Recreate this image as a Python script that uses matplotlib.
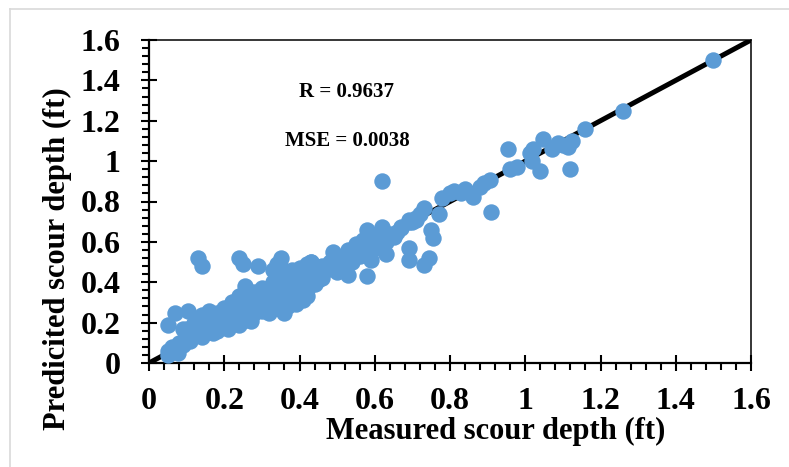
import matplotlib
matplotlib.use("Agg")
import matplotlib.pyplot as plt
from matplotlib.lines import Line2D
from matplotlib.ticker import MultipleLocator

# measured vs predicted scour depth (ft)
measured = [
    # dense band, low end
    0.05, 0.06, 0.07, 0.08, 0.09, 0.10, 0.11, 0.12, 0.11, 0.10, 0.12, 0.13, 0.09, 0.14, 0.15,
    0.14, 0.15, 0.16, 0.17, 0.17, 0.18, 0.18, 0.19, 0.20, 0.20, 0.21, 0.16, 0.14, 0.19, 0.21,
    0.22, 0.22, 0.23, 0.23, 0.24, 0.24, 0.25, 0.25, 0.26, 0.26, 0.27, 0.27, 0.28, 0.28, 0.29,
    0.29, 0.30, 0.30, 0.24, 0.26, 0.22, 0.23, 0.21, 0.27,
    0.31, 0.31, 0.32, 0.32, 0.33, 0.33, 0.34, 0.34, 0.35, 0.35, 0.36, 0.36, 0.37, 0.37, 0.38,
    0.38, 0.39, 0.39, 0.40, 0.40, 0.36, 0.35, 0.38, 0.30, 0.33, 0.37, 0.42, 0.41,
    0.41, 0.41, 0.42, 0.42, 0.43, 0.43, 0.44, 0.44, 0.45, 0.46, 0.46, 0.47, 0.48, 0.49, 0.50,
    0.50, 0.40, 0.42, 0.43,
    0.51, 0.52, 0.53, 0.54, 0.55, 0.56, 0.57, 0.58, 0.59, 0.60, 0.60, 0.61, 0.62, 0.63, 0.65,
    0.66, 0.67, 0.69, 0.71, 0.72,
    # extra points filling the band
    0.28, 0.31, 0.33, 0.35, 0.37, 0.39, 0.32, 0.34, 0.36, 0.38, 0.44, 0.45, 0.25, 0.27,
    0.18, 0.20, 0.22, 0.12, 0.13, 0.16,
    # mid range
    0.62, 0.78, 0.81, 0.84, 0.86, 0.88, 0.906, 0.89, 0.91, 0.73, 0.77, 0.69, 0.71, 0.67, 0.62,
    0.58, 0.75, 0.755, 0.69, 0.63, 0.69, 0.73, 0.745, 0.53, 0.49, 0.57, 0.59, 0.65, 0.60, 0.64,
    0.55, 0.55, 0.53, 0.58, 0.43, 0.59, 0.70, 0.80, 0.83,
    # upper range
    1.50, 1.26, 1.16, 1.047, 1.087, 1.124, 1.114, 1.071, 1.02, 1.018, 1.039, 1.119, 0.954,
    0.96, 0.978, 1.013, 1.10,
    # scattered low points
    0.13, 0.14, 0.24, 0.25, 0.29, 0.33, 0.35, 0.34, 0.255, 0.36, 0.39, 0.05, 0.07, 0.104,
    0.095, 0.053, 0.077, 0.05, 0.47, 0.46, 0.51,
]
predicted = [
    0.06, 0.08, 0.07, 0.10, 0.09, 0.12, 0.11, 0.14, 0.15, 0.17, 0.18, 0.16, 0.17, 0.13, 0.15,
    0.19, 0.21, 0.17, 0.15, 0.19, 0.22, 0.16, 0.20, 0.18, 0.23, 0.21, 0.23, 0.24, 0.25, 0.17,
    0.24, 0.20, 0.26, 0.22, 0.19, 0.29, 0.24, 0.21, 0.27, 0.31, 0.23, 0.28, 0.25, 0.32, 0.27,
    0.30, 0.26, 0.33, 0.33, 0.35, 0.28, 0.30, 0.26, 0.21,
    0.30, 0.36, 0.28, 0.33, 0.31, 0.37, 0.34, 0.29, 0.36, 0.32, 0.39, 0.30, 0.35, 0.41, 0.33,
    0.38, 0.36, 0.43, 0.40, 0.34, 0.44, 0.47, 0.46, 0.37, 0.40, 0.28, 0.33, 0.31,
    0.38, 0.44, 0.42, 0.36, 0.46, 0.40, 0.43, 0.48, 0.45, 0.48, 0.42, 0.46, 0.50, 0.47, 0.49,
    0.45, 0.47, 0.49, 0.50,
    0.51, 0.48, 0.52, 0.50, 0.54, 0.53, 0.58, 0.55, 0.59, 0.61, 0.57, 0.64, 0.62, 0.60, 0.63,
    0.65, 0.67, 0.70, 0.71, 0.74,
    0.35, 0.33, 0.35, 0.40, 0.38, 0.41, 0.25, 0.27, 0.33, 0.30, 0.39, 0.41, 0.30, 0.33,
    0.25, 0.27, 0.30, 0.20, 0.22, 0.26,
    0.90, 0.815, 0.85, 0.86, 0.82, 0.87, 0.906, 0.89, 0.75, 0.77, 0.74, 0.71, 0.72, 0.675, 0.675,
    0.66, 0.66, 0.62, 0.57, 0.54, 0.51, 0.485, 0.52, 0.56, 0.55, 0.61, 0.61, 0.625, 0.63, 0.64,
    0.59, 0.56, 0.435, 0.43, 0.50, 0.51, 0.70, 0.84, 0.84,
    1.50, 1.25, 1.16, 1.11, 1.09, 1.10, 1.07, 1.06, 1.06, 1.00, 0.95, 0.96, 1.06,
    0.96, 0.97, 1.04, 1.08,
    0.52, 0.48, 0.52, 0.49, 0.48, 0.46, 0.52, 0.49, 0.38, 0.25, 0.29, 0.19, 0.25, 0.26,
    0.16, 0.055, 0.05, 0.04, 0.47, 0.44, 0.47,
]
r_text = "R = 0.9637"
mse_text = "MSE = 0.0038"

plt.rcParams['font.family'] = ['Liberation Serif', 'DejaVu Serif']
plt.rcParams['font.weight'] = 'bold'

W, H = 789, 467
fig = plt.figure(figsize=(W / 100, H / 100), dpi=100)
ax = fig.add_axes([149 / W, (H - 363) / H, 602 / W, 323 / H])

# 1:1 line under the points
ax.plot([0, 1.6], [0, 1.6], color='black', lw=3.6, zorder=2, solid_capstyle='butt')
ax.scatter(measured, predicted, s=140, color='#5B9BD5', linewidths=0, zorder=3, clip_on=False)

ax.set_xlim(0, 1.6)
ax.set_ylim(0, 1.6)
ax.xaxis.set_major_locator(MultipleLocator(0.2))
ax.yaxis.set_major_locator(MultipleLocator(0.2))
ax.xaxis.set_minor_locator(MultipleLocator(0.04))
ax.yaxis.set_minor_locator(MultipleLocator(0.04))
fmt = lambda v, p: ("%g" % round(v, 1))
ax.xaxis.set_major_formatter(plt.FuncFormatter(fmt))
ax.yaxis.set_major_formatter(plt.FuncFormatter(fmt))

ax.tick_params(which='major', direction='inout', length=11, width=1.5, labelsize=23)
ax.tick_params(which='minor', direction='out', length=5, width=1.5)
ax.tick_params(axis='x', which='major', pad=12)
ax.tick_params(axis='y', which='major', pad=15)

for side in ['left', 'bottom']:
    ax.spines[side].set_linewidth(1.6)
for side in ['top', 'right']:
    ax.spines[side].set_linewidth(1.1)

ax.text(0.5236, 1.343, r_text, fontsize=15, fontweight='bold', ha='center', va='center')
ax.text(0.5262, 1.100, mse_text, fontsize=15, fontweight='bold', ha='center', va='center')

fig.text(496 / W, 1 - 431 / H, "Measured scour depth (ft)", fontsize=22,
         fontweight='bold', ha='center', va='center')
fig.text(57 / W, 1 - 259 / H, "Predicited scour depth (ft)", fontsize=22,
         fontweight='bold', ha='center', va='center', rotation=90)

# light grey frame around the chart area
fig.add_artist(Line2D([10 / W, 1], [1 - 9 / H, 1 - 9 / H], color='#d9d9d9', lw=1.2))
fig.add_artist(Line2D([10 / W, 10 / W], [0, 1 - 9 / H], color='#d9d9d9', lw=1.2))

fig.savefig("out.png", dpi=100)
